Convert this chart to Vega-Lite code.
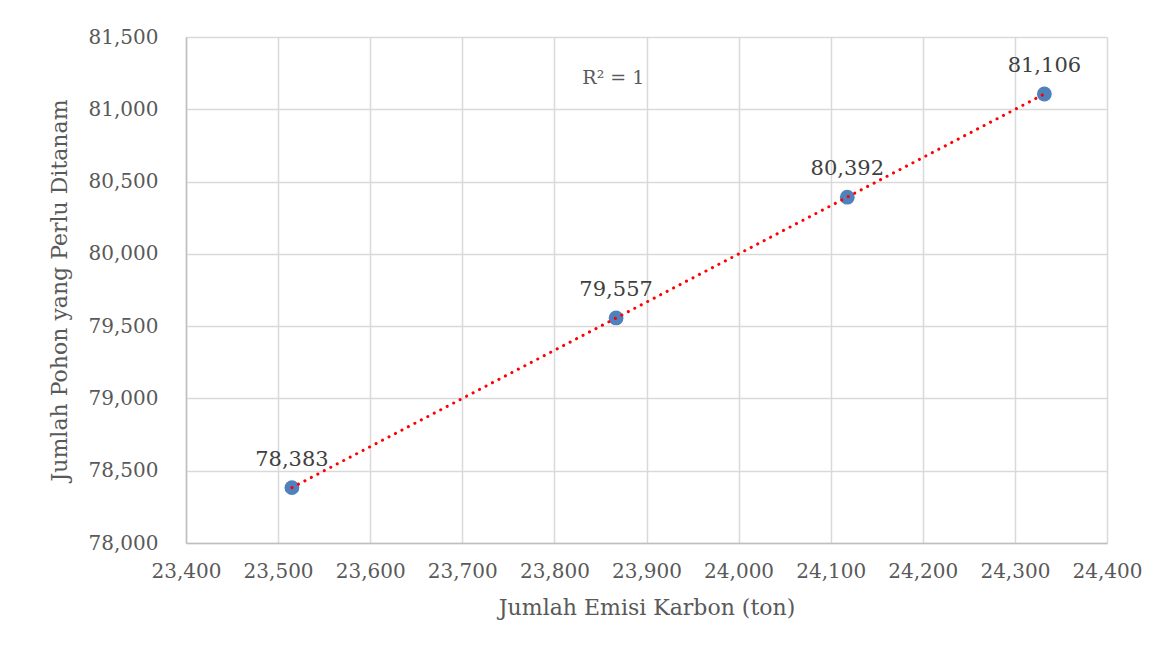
{
  "$schema": "https://vega.github.io/schema/vega-lite/v6.json",
  "width": 921,
  "height": 506,
  "autosize": {"type": "none"},
  "padding": {"left": 186, "top": 37, "right": 63, "bottom": 111},
  "background": "white",
  "config": {
    "view": {"stroke": null},
    "font": "DejaVu Serif",
    "axis": {
      "labelFont": "DejaVu Serif",
      "titleFont": "DejaVu Serif",
      "labelColor": "#595959",
      "titleColor": "#595959",
      "labelFontSize": 20,
      "titleFontSize": 22,
      "titleFontWeight": "normal",
      "gridColor": "#d9d9d9",
      "gridWidth": 1.5,
      "domainColor": "#bfbfbf",
      "domainWidth": 1.5,
      "ticks": false,
      "labelOverlap": false,
      "labelFlush": false
    }
  },
  "datasets": {
    "pts": [
      {"emisi": 23515, "pohon": 78383},
      {"emisi": 23867, "pohon": 79557},
      {"emisi": 24118, "pohon": 80392},
      {"emisi": 24332, "pohon": 81106}
    ],
    "note": [
      {"emisi": 23864, "pohon": 81216, "label": "R² = 1"}
    ]
  },
  "encoding": {
    "x": {
      "field": "emisi",
      "type": "quantitative",
      "scale": {"domain": [23400, 24400], "nice": false, "zero": false},
      "axis": {"format": ",d", "values": [23400,23500,23600,23700,23800,23900,24000,24100,24200,24300,24400], "labelPadding": 18, "title": "Jumlah Emisi Karbon (ton)", "titlePadding": 16}
    },
    "y": {
      "field": "pohon",
      "type": "quantitative",
      "scale": {"domain": [78000, 81500], "nice": false, "zero": false},
      "axis": {"format": ",d", "values": [78000,78500,79000,79500,80000,80500,81000,81500], "labelPadding": 28, "title": "Jumlah Pohon yang Perlu Ditanam", "titlePadding": 17}
    }
  },
  "layer": [
    {
      "data": {"name": "pts"},
      "mark": {"type": "point", "filled": true, "size": 220, "color": "#4f81bd", "opacity": 1}
    },
    {
      "data": {"name": "pts"},
      "transform": [{"regression": "pohon", "on": "emisi"}],
      "mark": {"type": "line", "color": "#ff0000", "strokeWidth": 3, "strokeCap": "round", "strokeDash": [0.1, 7.2]}
    },
    {
      "data": {"name": "pts"},
      "mark": {"type": "text", "baseline": "bottom", "dy": -18, "fontSize": 21, "color": "#404040", "font": "DejaVu Serif"},
      "encoding": {"text": {"field": "pohon", "type": "quantitative", "format": ",d"}}
    },
    {
      "data": {"name": "note"},
      "mark": {"type": "text", "baseline": "middle", "fontSize": 19, "color": "#595959", "font": "DejaVu Serif"},
      "encoding": {"text": {"field": "label"}}
    }
  ]
}
